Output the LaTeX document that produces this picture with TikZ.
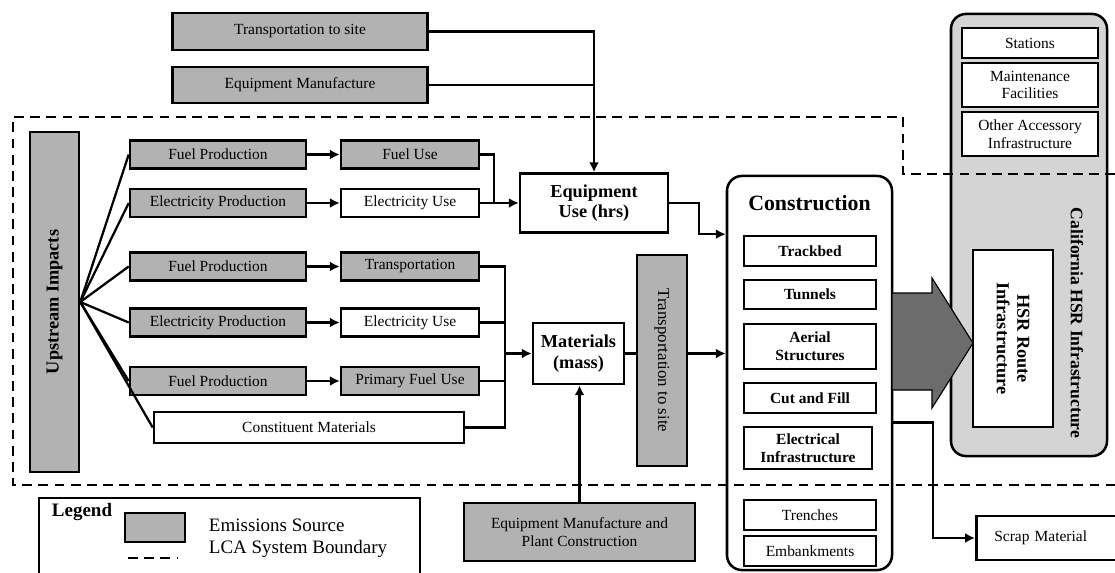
\documentclass[tikz,border=0pt]{standalone}
\usepackage{fontspec}
\setmainfont{Liberation Serif}
\usetikzlibrary{calc,arrows.meta}
\definecolor{srcgray}{RGB}{178,178,178}
\definecolor{infragray}{RGB}{212,212,212}
\definecolor{arrowgray}{RGB}{108,108,108}
\newcommand{\fsmall}{\fontsize{11}{12.5}\selectfont}
\newcommand{\fmid}{\fontsize{13}{14.5}\selectfont}
\newcommand{\fbig}{\fontsize{15.5}{17}\selectfont}
\newcommand{\flegend}{\fontsize{13.5}{15}\selectfont}

\begin{document}
\begin{tikzpicture}[
  x=0.025cm, y=-0.025cm,
  box/.style={rectangle, draw, line width=1.8pt, inner sep=0pt, align=center, font=\fsmall},
  source/.style={box, fill=srcgray},
  plain/.style={box, fill=white},
  prod/.style={source, minimum width=4.4cm, minimum height=0.7cm},
  use/.style={minimum width=3.45cm, minimum height=0.7cm},
  part/.style={plain, minimum width=3.3cm, minimum height=0.75cm, font=\fsmall\bfseries},
  conn/.style={line width=1.6pt},
  arr/.style={conn, -{Latex[length=7pt,width=7pt]}},
  boundary/.style={line width=2pt, dash pattern=on 7pt off 4.5pt},
  node distance=4.8cm
]
\useasboundingbox (0,0) rectangle (1115,572);

% sources above the boundary
\node[source, minimum width=6.375cm, minimum height=0.925cm] (tsite) at (300,31.5) {Transportation to site};
\node[source, minimum width=6.375cm, minimum height=0.9cm] (emanu) at (300,85) {Equipment Manufacture};

\node[source, rotate=90, minimum width=8.5cm, minimum height=1.225cm, font=\fmid\bfseries] (up) at (54.5,302) {Upstream Impacts};

\node[prod] (fp1) at (218,154.5) {Fuel Production};
\node[source, use, right of=fp1] (fu1) {Fuel Use};
\node[prod] (ep1) at (218,203) {Electricity Production};
\node[plain, use, right of=ep1] (eu1) {Electricity Use};
\node[prod] (fp2) at (218,266.5) {Fuel Production};
\node[source, use, right of=fp2] (tr) {Transportation};
\node[prod] (ep2) at (218,322.5) {Electricity Production};
\node[plain, use, right of=ep2] (eu2) {Electricity Use};
\node[prod] (fp3) at (218,381) {Fuel Production};
\node[source, use, right of=fp3] (pfu) {Primary Fuel Use};
\node[plain, minimum width=7.75cm, minimum height=0.775cm] (cm) at (309,427.5) {Constituent Materials};

\node[plain, minimum width=3.7cm, minimum height=1.475cm, font=\fmid\bfseries] (equse) at (594,203) {Equipment\\Use (hrs)};
\node[plain, minimum width=2.275cm, minimum height=1.525cm, font=\fmid\bfseries] (mat) at (578.5,353.5) {Materials\\(mass)};
\node[source, rotate=-90, minimum width=5.275cm, minimum height=1.25cm, font=\fontsize{12}{14}\selectfont] (tsite2) at (662,360.5) {Transportation to site};
\node[source, minimum width=5.775cm, minimum height=1.45cm] (emp) at (579.5,532) {Equipment Manufacture and\\Plant Construction};

% construction
\node[draw, line width=1.8pt, rounded corners=0.375cm, fill=white, minimum width=4.125cm, minimum height=9.85cm] (constr) at (809.5,373) {};
\node[font=\fbig\bfseries] (ctitle) at (809.5,203) {Construction};
\node[part] (trk) at (810,251) {Trackbed};
\node[part, minimum height=0.725cm] (tun) at (810,294.5) {Tunnels};
\node[part, minimum height=1.125cm] (aer) at (810,346.5) {Aerial\\Structures};
\node[part] (cf) at (810,398) {Cut and Fill};
\node[part, minimum width=3.2cm, minimum height=1.05cm] (elec) at (808,448) {Electrical\\Infrastructure};
\node[plain, minimum width=3.3cm, minimum height=0.75cm] (tren) at (810,515) {Trenches};
\node[plain, minimum width=3.3cm, minimum height=0.75cm] (emb) at (810,551) {Embankments};

% infrastructure
\node[draw, line width=1.8pt, rounded corners=0.375cm, fill=infragray, minimum width=3.9cm, minimum height=11.05cm] (cal) at (1029,235) {};
\node[plain, minimum width=3.4cm, minimum height=0.75cm] (sta) at (1030,43) {Stations};
\node[plain, minimum width=3.4cm, minimum height=1.1cm] (mnt) at (1030,85) {Maintenance\\Facilities};
\node[plain, minimum width=3.4cm, minimum height=1.1cm] (oth) at (1030,134) {Other Accessory\\Infrastructure};
\node[plain, rotate=-90, minimum width=4.425cm, minimum height=2cm, font=\fmid\bfseries] (hsr) at (1013,338.5) {HSR Route\\Infrastructure};
\node[rotate=-90, font=\fontsize{12.5}{14}\selectfont\bfseries] (callbl) at (1077,323) {California HSR Infrastructure};

\node[plain, anchor=west, minimum height=1.1cm, text width=3cm, align=left, inner xsep=0.45cm] (scrap) at (975,538) {Scrap Material};

\draw[line width=0.8pt, fill=arrowgray] (892,293) -- (932,293) -- (932,278) -- (973,343) -- (932,408) -- (932,390) -- (892,390) -- cycle;

% boundary
\draw[boundary] (1115,174) -- (903,174) -- (903,117) -- (13,117) -- (13,485) -- (1115,485);

% connectors
\draw[arr] (tsite.east) -| (equse.north);
\draw[conn] (emanu.east) -- (emanu.east -| equse.north);

\draw[conn] (up.south) -- (fp1.west);
\draw[conn] (up.south) -- (ep1.west);
\draw[conn] (up.south) -- (fp2.west);
\draw[conn] (up.south) -- (ep2.west);
\draw[conn] (up.south) -- (fp3.west);
\draw[conn] (up.south) -- (cm.west);

\draw[arr] (fp1) -- (fu1);
\draw[arr] (ep1) -- (eu1);
\draw[arr] (fp2) -- (tr);
\draw[arr] (ep2) -- (eu2);
\draw[arr] (fp3) -- (pfu);

\draw[conn] (fu1.east) -- ++(14,0) coordinate (fj) -- (fj |- eu1.east);
\draw[arr] (eu1.east) -- (equse.west);

\coordinate (mj) at ($(mat.west)+(-27,0)$);
\draw[conn] (tr.east) -- (tr.east -| mj) -- (cm.east -| mj) -- (cm.east);
\draw[conn] (eu2.east) -- (eu2.east -| mj);
\draw[conn] (pfu.east) -- (pfu.east -| mj);
\draw[arr] (mj) -- (mat.west);

\draw[conn] (mat.east) -- (mat.east -| tsite2.south);
\draw[arr] (mat.east -| tsite2.north) -- (mat.east -| constr.west);
\draw[arr] (emp.north) -- (emp.north |- mat.south);
\draw[arr] (equse.east) -- ++(30,0) |- ($(constr.north west)!0.15!(constr.south west)$);
\draw[arr] ($(constr.north east)!0.625!(constr.south east)$) -- ++(40,0) |- (scrap.west);

% legend
\draw[line width=1.6pt] (39,498) rectangle (420,580);
\node[font=\flegend\bfseries] (lgd) at (82,512) {Legend};
\node[source, minimum width=1.5cm, minimum height=0.725cm] (lgdsrc) at (155,527.5) {};
\node[anchor=west, font=\flegend] (lgdsrctxt) at (204,525) {Emissions Source};
\draw[boundary] (128,558) -- (178,558);
\node[anchor=west, font=\flegend] (lgdbnd) at (204,549) {LCA System Boundary};
\end{tikzpicture}
\end{document}
